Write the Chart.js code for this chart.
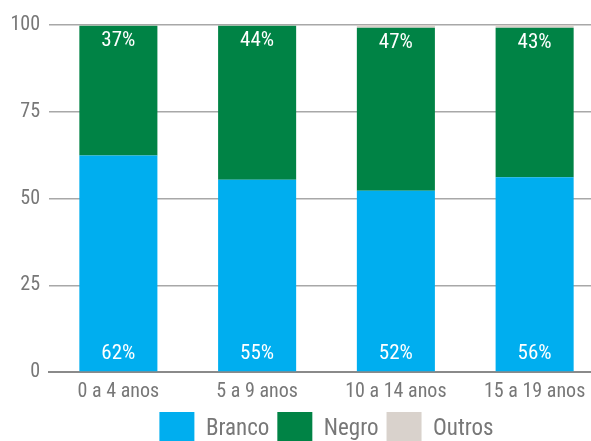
<!DOCTYPE html>
<html>
<head>
<meta charset="utf-8">
<script src="https://cdn.jsdelivr.net/npm/chart.js@4"></script>
<style>
    html, body { margin: 0; padding: 0; overflow: hidden; background: #fff; }
    #wrap { width: 604px; height: 457px; }
</style>
</head>
<body>
<div id="wrap"><canvas id="chart"></canvas></div>
<script>
const categories = ["0 a 4 anos", "5 a 9 anos", "10 a 14 anos", "15 a 19 anos"];
const branco = [62.4, 55.4, 52.2, 56.1];
const negro = [37.4, 44.4, 47.0, 43.1];
const outros = [0.2, 0.2, 0.8, 0.8];
const yTicks = [0, 25, 50, 75, 100];

const FONT = '"Roboto Condensed", "DejaVu Sans Condensed", "Roboto", sans-serif';
const GREY = "#777777";

// draws the % labels inside the bars (no datalabels plugin offline)
const barLabels = {
    id: "barLabels",
    afterDatasetsDraw(chart) {
        const ctx = chart.ctx;
        ctx.save();
        ctx.font = "21px " + FONT;
        ctx.fillStyle = "#ffffff";
        ctx.textAlign = "center";
        ctx.textBaseline = "middle";

        // Branco: near the bottom of the bar
        chart.getDatasetMeta(0).data.forEach((bar, i) => {
            ctx.fillText(Math.round(branco[i]) + "%", bar.x, bar.base - 18);
        });
        // Negro: near the top of the bar
        chart.getDatasetMeta(1).data.forEach((bar, i) => {
            ctx.fillText(Math.round(negro[i]) + "%", bar.x, bar.y + 15);
        });
        ctx.restore();
    },
};

const chartData = {
    labels: categories,
    datasets: [
        { label: "Branco", data: branco, backgroundColor: "#00AEEF" },
        { label: "Negro", data: negro, backgroundColor: "#008345" },
        { label: "Outros", data: outros, backgroundColor: "#D9D2CC" },
    ],
};

const config = {
    type: "bar",
    data: chartData,
    options: {
        responsive: true,
        maintainAspectRatio: false,
        animation: false,
        layout: { padding: { top: 25, left: 0, right: 0, bottom: 0 } },
        datasets: {
            bar: { categoryPercentage: 1, barPercentage: 0.5625, borderWidth: 0 },
        },
        scales: {
            x: {
                stacked: true,
                grid: { display: false },
                border: { display: true, color: "#8a8a8a", width: 2 },
                ticks: { color: GREY, font: { family: FONT, size: 20 }, padding: 0 },
            },
            y: {
                stacked: true,
                min: 0,
                max: 100,
                afterBuildTicks: (scale) => {
                    scale.ticks = yTicks.map((v) => ({ value: v }));
                },
                afterFit: (scale) => {
                    scale.width = 49;
                },
                grid: { color: "#a8a8a8", lineWidth: 1.5, drawTicks: false },
                border: { display: false },
                ticks: { color: GREY, font: { family: FONT, size: 20 }, padding: 9 },
            },
        },
        plugins: {
            legend: {
                position: "bottom",
                fullSize: false,
                labels: {
                    boxWidth: 35,
                    boxHeight: 35,
                    padding: 8,
                    color: GREY,
                    font: { family: FONT, size: 23 },
                },
            },
            tooltip: { enabled: false },
        },
    },
    plugins: [barLabels],
};

const chart = new Chart(document.getElementById("chart"), config);
</script>
</body>
</html>
